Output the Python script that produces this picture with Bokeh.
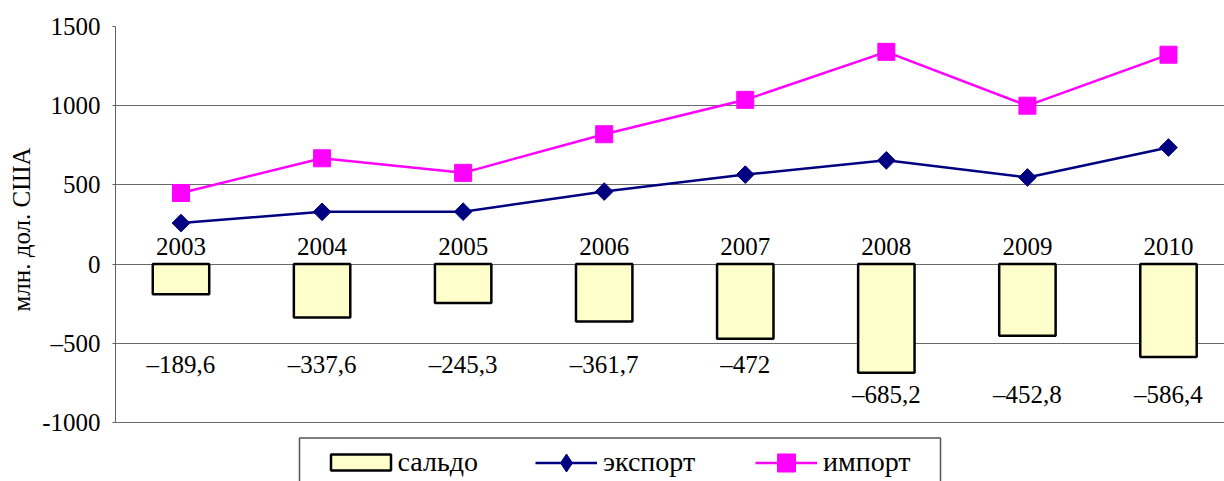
import math
from bokeh.plotting import figure
from bokeh.models import (Range1d, FixedTicker, Legend, LegendItem, BoxAnnotation,
                          ColumnDataSource, Title)
from bokeh.core.properties import value
from bokeh.embed import file_html
from bokeh.resources import INLINE

# ---- data ----
years = ["2003", "2004", "2005", "2006", "2007", "2008", "2009", "2010"]
export_vals = [259, 330, 331, 458, 565, 655, 547, 736]
import_vals = [449, 668, 576, 820, 1037, 1340, 1000, 1322]
saldo_vals = [-189.6, -337.6, -245.3, -361.7, -472, -685.2, -452.8, -586.4]
saldo_labels = ["–189,6", "–337,6", "–245,3", "–361,7", "–472", "–685,2", "–452,8", "–586,4"]
y_ticks = [-1000, -500, 0, 500, 1000, 1500]
y_tick_labels = ["-1000", "–500", "0", "500", "1000", "1500"]

FONT = "Liberation Serif"
FS = "25px"
LFS = "28px"

idx = list(range(len(years)))
label_y = [-631 if i < 5 else -821 for i in idx]
src = ColumnDataSource(dict(x=idx, year=years, exp=export_vals, imp=import_vals,
                            saldo=saldo_vals, slab=saldo_labels, ly=label_y,
                            zero=[0] * len(idx)))

p = figure(width=1224, height=481, output_backend="svg", toolbar_location=None,
           x_range=Range1d(-0.4643, 7.3971), y_range=Range1d(-1372.5, 1500),
           x_axis_location=None, min_border_left=115, min_border_right=0,
           min_border_top=26, min_border_bottom=0)
p.outline_line_color = None
p.background_fill_color = "white"
p.border_fill_color = "white"

for g in p.grid:
    if g.dimension == 0:
        g.visible = False
p.ygrid.ticker = FixedTicker(ticks=y_ticks)
p.ygrid.grid_line_color = "#6a6a6a"
p.ygrid.grid_line_width = 1

ax = p.yaxis[0]
ax.ticker = FixedTicker(ticks=y_ticks)
ax.bounds = (-1000, 1500)
ax.major_label_overrides = {t: l for t, l in zip(y_ticks, y_tick_labels)}
ax.major_label_text_font = FONT
ax.major_label_text_font_size = FS
ax.major_label_text_color = "black"
ax.major_tick_out = 3
ax.major_tick_in = 0
ax.minor_tick_out = 0
ax.minor_tick_in = 0
ax.major_label_standoff = 12
ax.axis_line_color = "#606060"
ax.major_tick_line_color = "#606060"

# y-axis title as a side title so that it can be placed on the -1000..1500 span
ytitle = Title(text="млн. дол. США", align="left", offset=170, standoff=9,
               text_font=FONT, text_font_size=FS, text_font_style="normal",
               text_color="black")
p.add_layout(ytitle, "left")

# bars
bar_r = p.vbar(x="x", top="zero", bottom="saldo", width=0.4, source=src,
               fill_color="#FFFFCC", line_color="black", line_width=2.5)

# lines
exp_line = p.line(x="x", y="exp", source=src, line_color="#000080", line_width=2.5)
exp_sc = p.scatter(x="x", y="exp", source=src, marker="square", angle=math.pi / 4,
                   size=12.5, fill_color="#000080", line_color="#000080")
imp_line = p.line(x="x", y="imp", source=src, line_color="#FF00FF", line_width=2.5)
imp_sc = p.scatter(x="x", y="imp", source=src, marker="square", size=17,
                   fill_color="#FF00FF", line_color="#FF00FF")
# legend-only diamond (hidden in the plot)
exp_leg = p.scatter(x="x", y="exp", source=src, marker="diamond", size=18,
                    fill_color="#000080", line_color="#000080", visible=False)

# texts
p.text(x="x", y="zero", text="year", source=src, text_align="center",
       text_baseline="alphabetic", y_offset=-18, text_font=value(FONT),
       text_font_size=FS, text_color="black")
p.text(x="x", y="ly", text="slab", source=src, text_align="center",
       text_baseline="alphabetic", text_font=value(FONT),
       text_font_size=FS, text_color="black")

# legend (three pieces so that each swatch gets its own size) + one frame
common = dict(orientation="horizontal", padding=0, margin=0, border_line_alpha=0,
              background_fill_alpha=0, label_text_font=FONT, label_text_font_size=LFS,
              label_text_color="black", spacing=0)
leg_a = Legend(items=[LegendItem(label="сальдо", renderers=[bar_r])],
               location=(207.5, 3.5), glyph_width=75, glyph_height=20,
               label_standoff=0, **common)
leg_b1 = Legend(items=[LegendItem(label="экспорт", renderers=[exp_line, exp_leg])],
                location=(420, -3.5), glyph_width=62, glyph_height=45,
                label_standoff=6, **common)
leg_b2 = Legend(items=[LegendItem(label="импорт", renderers=[imp_line, imp_sc])],
                location=(640, -3.5), glyph_width=62, glyph_height=45,
                label_standoff=6, **common)
for lg in (leg_a, leg_b1, leg_b2):
    p.add_layout(lg)

box = BoxAnnotation(left=184, right=825, top=43.5, bottom=-10,
                    left_units="screen", right_units="screen",
                    top_units="screen", bottom_units="screen",
                    fill_alpha=0, line_color="#555555", line_alpha=1, line_width=1.5)
p.add_layout(box)

open("out.html", "w").write(file_html(p, INLINE))
